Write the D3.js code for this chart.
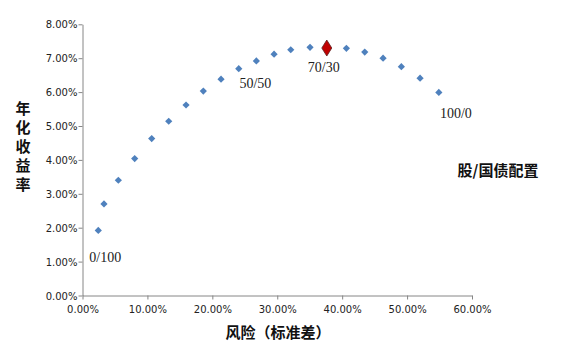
<!DOCTYPE html>
<html><head><meta charset="utf-8">
<script src="https://cdn.jsdelivr.net/npm/d3@7"></script>
<style>body{margin:0;background:#fff}svg{display:block}</style>
</head><body>
<script>
const allocations = ["0/100","5/95","10/90","15/85","20/80","25/75","30/70","35/65","40/60","45/55","50/50","55/45","60/40","65/35","70/30","75/25","80/20","85/15","90/10","95/5","100/0"];
const risk = [2.43,3.31,5.52,8.04,10.66,13.28,15.95,18.61,21.34,24.07,26.78,29.51,32.08,35.05,37.63,40.65,43.48,46.30,49.12,52.00,54.89];
const ret = [1.92,2.70,3.40,4.04,4.63,5.14,5.62,6.03,6.38,6.69,6.92,7.12,7.25,7.32,7.30,7.29,7.18,7.00,6.75,6.41,5.99];
const xTicks = [0,10,20,30,40,50,60];
const yTicks = [0,1,2,3,4,5,6,7,8];
const labelled = ["0/100","50/50","70/30","100/0"];
const highlight = "70/30";
const yTitle = "年化收益率";
const xTitle = "风险（标准差）";
const legendText = "股/国债配置";

const W=573,H=353;
const svg=d3.select("body").append("svg").attr("width",W).attr("height",H);
const x=d3.scaleLinear().domain([0,60]).range([82.5,472]);
const y=d3.scaleLinear().domain([0,8]).range([295.5,24.3]);
const axisColor="#868686";

const gx=svg.append("g").attr("transform",`translate(0,${y(0)})`)
  .call(d3.axisBottom(x).tickValues(xTicks).tickFormat(d=>d.toFixed(2)+"%").tickSize(4).tickSizeOuter(0));
const gy=svg.append("g").attr("transform",`translate(${x(0)},0)`)
  .call(d3.axisLeft(y).tickValues(yTicks).tickFormat(d=>d.toFixed(2)+"%").tickSize(4).tickSizeOuter(0));
[gx,gy].forEach(g=>{
  g.selectAll("path,line").attr("stroke",axisColor).attr("stroke-width",1);
  g.selectAll("text").attr("font-family","DejaVu Sans").attr("font-size",10).attr("fill","#222");
});
gx.selectAll("text").attr("dy","1.05em");
gy.selectAll("text").attr("x",-5).attr("dy","0.35em");

const data=allocations.map((a,i)=>({a,x:risk[i],y:ret[i]}));
const diamond=(w,h)=>`M0,${-h}L${w},0L0,${h}L${-w},0Z`;
svg.append("g").selectAll("path").data(data.filter(d=>d.a!==highlight)).join("path")
  .attr("d",diamond(3.6,3.6)).attr("transform",d=>`translate(${x(d.x)},${y(d.y)})`)
  .attr("fill","#4F81BD");
svg.append("g").selectAll("path").data(data.filter(d=>d.a===highlight)).join("path")
  .attr("d",diamond(5,8)).attr("transform",d=>`translate(${x(d.x)},${y(d.y)})`)
  .attr("fill","#C00000").attr("stroke","#5a2020").attr("stroke-width",0.8);

const labelOffset={"0/100":[7,32],"50/50":[-1,27],"70/30":[-3,24],"100/0":[17,26]};
svg.append("g").selectAll("text").data(data.filter(d=>labelled.includes(d.a))).join("text")
  .attr("x",d=>x(d.x)+labelOffset[d.a][0]).attr("y",d=>y(d.y)+labelOffset[d.a][1])
  .attr("text-anchor","middle").attr("font-family","Liberation Serif").attr("font-size",14)
  .attr("fill","#222").text(d=>d.a);

const yt=svg.append("g").attr("font-family","Noto Sans CJK SC").attr("font-weight","bold")
  .attr("font-size",15).attr("fill","#111").attr("text-anchor","middle");
yTitle.split("").forEach((c,i)=>yt.append("text").attr("x",23).attr("y",114+i*19).text(c));

svg.append("text").attr("x",278).attr("y",338).attr("text-anchor","middle")
  .attr("font-family","Noto Sans CJK SC").attr("font-weight","bold").attr("font-size",15)
  .attr("fill","#111").text(xTitle);

svg.append("text").attr("x",498).attr("y",176).attr("text-anchor","middle")
  .attr("font-family","Noto Sans CJK SC").attr("font-weight","bold").attr("font-size",15)
  .attr("fill","#111").text(legendText);
</script>
</body></html>
